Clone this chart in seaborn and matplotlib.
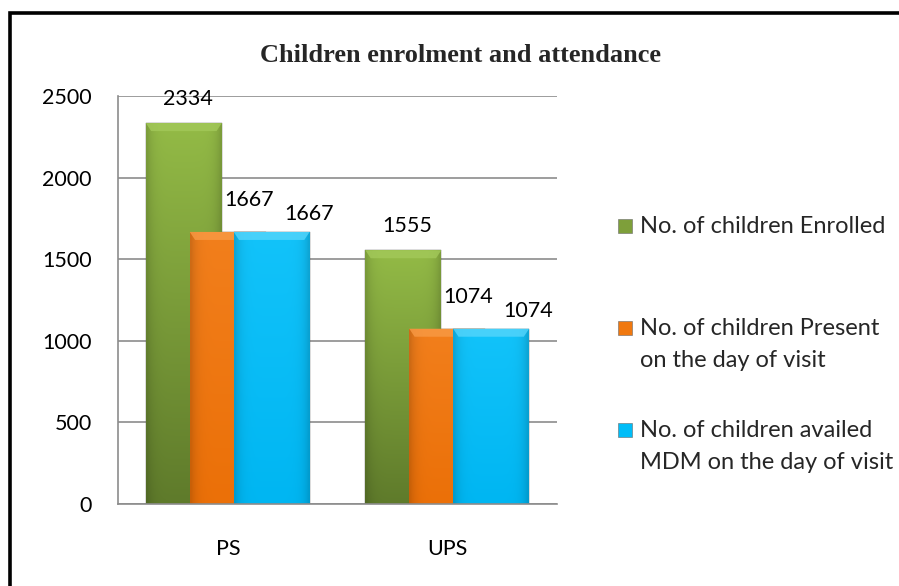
import numpy as np
import pandas as pd
import matplotlib
matplotlib.use("Agg")
import matplotlib.pyplot as plt
from matplotlib.patches import Rectangle
from matplotlib.lines import Line2D
from matplotlib.colors import to_rgb
import seaborn as sns

# ---- data -------------------------------------------------------------
categories = ["PS", "UPS"]
series_names = [
    "No. of children Enrolled",
    "No. of children Present\non the day of visit",
    "No. of children availed\nMDM on the day of visit",
]
enrolled = [2334, 1555]
present = [1667, 1074]
availed_mdm = [1667, 1074]
y_ticks = [0, 500, 1000, 1500, 2000, 2500]

# ---- styling ------------------------------------------------------------
colors = ["#7e9f3a", "#f0780f", "#00bdf8"]
top_colors = ["#93ba46", "#f27f1c", "#12c3fa"]
bottom_colors = ["#5f7b2b", "#eb7008", "#00b6f2"]
bevel_colors = ["#a3c95a", "#f89a45", "#55d5fb"]
label_offsets = [(4, 24), (21, 32), (37, 18)]   # pixels, per series
bar_width = 0.346

sns.set_theme(style="white")
plt.rcParams["font.family"] = ["Lato", "DejaVu Sans"]

df = pd.DataFrame({
    "school": categories * 3,
    "series": [s for s in series_names for _ in categories],
    "children": enrolled + present + availed_mdm,
})

fig = plt.figure(figsize=(8.99, 5.86), dpi=100)
ax = fig.add_axes([118 / 899, 1 - 504 / 586, (557 - 118) / 899, (504 - 96) / 586])

sns.barplot(data=df, x="school", y="children", hue="series",
            hue_order=series_names, order=categories,
            palette=colors, saturation=1, width=0.6, dodge=True,
            legend=False, errorbar=None, ax=ax, linewidth=0)

ax.set_ylim(0, 2500)
ax.set_xlim(-0.5, 1.5)

# widen the bars so neighbouring series overlap, then shade them
values_by_series = [enrolled, present, availed_mdm]
patches = list(ax.patches)
grad = np.linspace(0, 1, 64).reshape(-1, 1)
for i, p in enumerate(patches):
    s_idx = i // len(categories)
    c_idx = i % len(categories)
    cx = p.get_x() + p.get_width() / 2
    p.set_width(bar_width)
    p.set_x(cx - bar_width / 2)
    p.set_edgecolor("#5a5a5a")
    p.set_linewidth(0.3)
    x0, y0 = p.get_x(), p.get_y()
    h = p.get_height()
    top = np.array(to_rgb(top_colors[s_idx]))
    bot = np.array(to_rgb(bottom_colors[s_idx]))
    img = (top[None, None, :] * (1 - grad[:, :, None]) + bot[None, None, :] * grad[:, :, None])
    # darker vertical edges
    xs = np.linspace(0, 1, 32)
    shade = 1 - 0.15 * (np.abs(xs - 0.5) * 2) ** 6
    img = img * shade[None, :, None]
    im = ax.imshow(np.clip(img, 0, 1), extent=(x0, x0 + bar_width, y0, y0 + h),
                   aspect="auto", origin="upper", zorder=p.get_zorder() + 0.01 * i,
                   interpolation="bilinear")
    im.set_clip_path(p)
    # light bevel along the top of each bar
    bevel = 8 * 2500 / 408
    bx = bar_width * 0.07
    ax.fill([x0, x0 + bar_width, x0 + bar_width - bx, x0 + bx],
            [y0 + h, y0 + h, y0 + h - bevel, y0 + h - bevel],
            color=bevel_colors[s_idx], alpha=0.8, lw=0,
            zorder=p.get_zorder() + 0.01 * i + 0.005)
    dx, dy = label_offsets[s_idx]
    ax.annotate(f"{values_by_series[s_idx][c_idx]}", (cx, h),
                xytext=(dx, dy), textcoords="offset pixels",
                ha="center", va="center", fontsize=15.5, color="black",
                zorder=20)

ax.set_ylim(0, 2500)
ax.set_xlim(-0.5, 1.5)

ax.set_yticks(y_ticks)
ax.yaxis.grid(True, color="#8c8c8c", linewidth=1.2)
ax.set_axisbelow(True)
ax.tick_params(axis="both", length=0, labelsize=15.5, colors="black")
ax.tick_params(axis="y", pad=19)
ax.tick_params(axis="x", pad=25)
ax.set_xlabel("")
ax.set_ylabel("")
for side in ["top", "right"]:
    ax.spines[side].set_visible(False)
for side in ["left", "bottom"]:
    ax.spines[side].set_color("#8c8c8c")
    ax.spines[side].set_linewidth(1.2)

fig.text(460 / 899, 1 - 56 / 586, "Children enrolment and attendance",
         ha="center", va="center", fontsize=19, fontweight="bold",
         family="Liberation Serif")

# legend: every entry takes two lines so the markers sit at an even pitch
legend_labels = [s if "\n" in s else s + "\n " for s in series_names]
handles = [Line2D([], [], marker="s", linestyle="none", markersize=10.5,
                  markerfacecolor=c, markeredgecolor="#6a6a6a",
                  markeredgewidth=0.4) for c in colors]
leg = fig.legend(handles, legend_labels, loc="upper left",
                 bbox_to_anchor=(616 / 899, 1 - 216 / 586), frameon=False,
                 fontsize=17, handlelength=0.75, handleheight=1.1,
                 handletextpad=0.25, labelspacing=2.1, borderpad=0,
                 borderaxespad=0)
for t in leg.get_texts():
    t.set_linespacing(1.62)
for column in leg._legend_handle_box.get_children():
    for row in column.get_children():
        row.align = "top"

# outer frame of the chart area
fig.patches.append(Rectangle((9.5 / 899, -0.2), 2, 1.2 - 12.5 / 586,
                             transform=fig.transFigure, fill=False,
                             edgecolor="black", linewidth=2.6, zorder=50))

fig.savefig("out.png", dpi=100, facecolor="white")
